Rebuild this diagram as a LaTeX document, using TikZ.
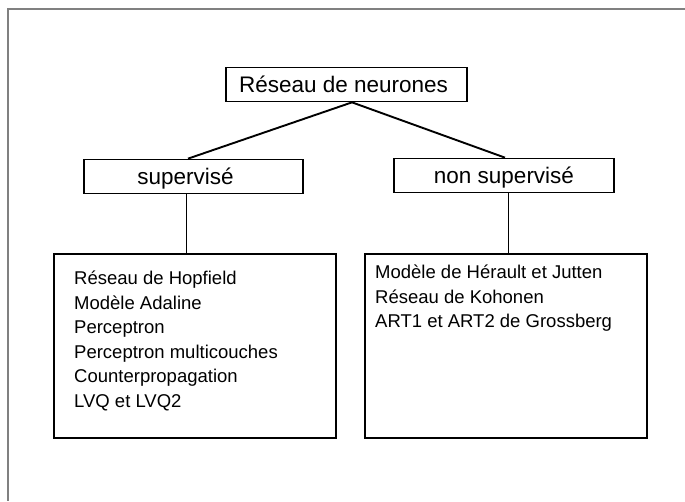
\documentclass[tikz,border=0pt]{standalone}
\usepackage{fontspec}
\setmainfont{Liberation Sans}
\begin{document}
\begin{tikzpicture}[x=1pt,y=-1pt,
  titre/.style={draw,line width=1.7pt,inner sep=0pt,minimum height=34pt,text height=19pt,text depth=4pt,font=\fontsize{22.5}{27}\selectfont},
  liste/.style={draw,line width=1.7pt,minimum width=282pt,minimum height=184pt,anchor=north west},
  items/.style={anchor=north west,align=left,inner sep=0pt,font=\fontsize{18.5}{24.6}\selectfont},
  lien/.style={line width=1.9pt},
  trait/.style={line width=0.7pt}]
 \useasboundingbox (0,0) rectangle (685,501);
 % cadre
 \draw[gray,line width=1.2pt](685,9)--(8,9)--(8,501);
 % titres
 \node[titre,minimum width=241pt] (reseau) at (346.5,84.5) {Réseau de neurones\hspace*{6pt}};
 \node[titre,minimum width=219pt] (sup) at (193.5,176.5) {supervisé\hspace*{16pt}};
 \node[titre,minimum width=220pt] (nonsup) at (504,175.5) {non supervisé};
 % listes
 \node[liste] (lsup) at (53,253) {};
 \node[liste] (lnonsup) at (364,253) {};
 \node[items] (lsuptxt) at ([shift={(21,14)}]lsup.north west)
  {\strut Réseau de Hopfield\\ Modèle Adaline\\ Perceptron\\ Perceptron multicouches\\ Counterpropagation\\ LVQ et LVQ2};
 \node[items] (lnonsuptxt) at ([shift={(11,8)}]lnonsup.north west)
  {\strut Modèle de Hérault et Jutten\\ Réseau de Kohonen\\ ART1 et ART2 de Grossberg};
 % liens
 \draw[lien]([xshift=5.5pt]reseau.south)--([xshift=-5.5pt]sup.north);
 \draw[lien]([xshift=5.5pt]reseau.south)--([xshift=1pt]nonsup.north);
 \draw[trait]([xshift=-7.5pt]sup.south)--([xshift=-7.5pt]sup.south |- lsup.north);
 \draw[trait]([xshift=4pt]nonsup.south)--([xshift=4pt]nonsup.south |- lnonsup.north);
\end{tikzpicture}
\end{document}
